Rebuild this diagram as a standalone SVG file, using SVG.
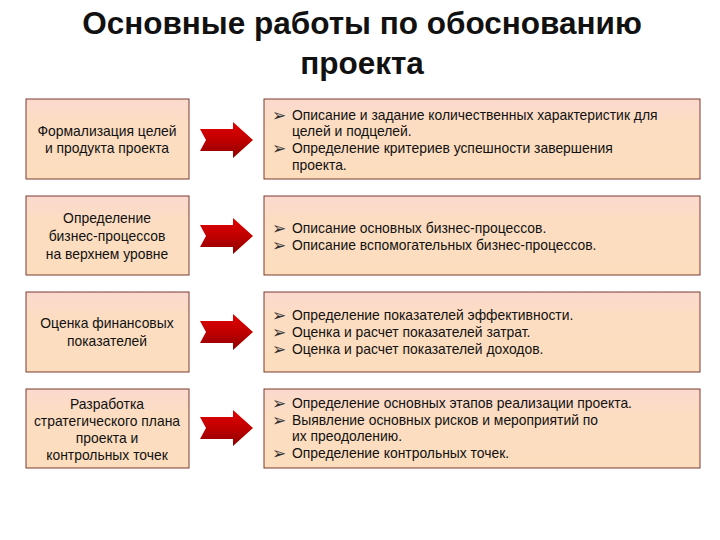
<svg xmlns="http://www.w3.org/2000/svg" width="720" height="540" viewBox="0 0 720 540">
<defs>
<linearGradient id="g" x1="0" y1="0" x2="0" y2="1"><stop offset="0" stop-color="#FBD9CF"/><stop offset="0.3" stop-color="#FCDDC2"/><stop offset="1" stop-color="#FCDDBD"/></linearGradient>
<linearGradient id="ar" x1="0" y1="0" x2="0" y2="1"><stop offset="0" stop-color="#E00000"/><stop offset="0.5" stop-color="#C00000"/><stop offset="1" stop-color="#8E0000"/></linearGradient>
<path id="arrow" d="M0,-11 L33,-11 L33,-18 L53,0 L33,18 L33,11 L0,11 L6,0 Z"/>
</defs>
<style>
.box{fill:url(#g);stroke:#7A3B2E;stroke-width:1}
.t{font-family:"Liberation Sans",Arial,sans-serif;font-size:13.9px;fill:#111}
.l{text-anchor:middle}
.title{font-family:"Liberation Sans",Arial,sans-serif;font-size:31.5px;font-weight:bold;fill:#111;text-anchor:middle}
.b{font-family:"DejaVu Sans",sans-serif;font-size:17px;fill:#333}
</style>
<rect width="720" height="540" fill="#fff"/>
<text class="title" x="362" y="34">Основные работы по обоснованию</text>
<text class="title" x="362" y="74">проекта</text>
<g id="n1"><rect class="box" x="26" y="99" width="163" height="80"/><text class="t l" x="107" y="136">Формализация целей</text><text class="t l" x="107" y="153">и продукта проекта</text></g>
<g id="n2"><rect class="box" x="26" y="196" width="163" height="79"/><text class="t l" x="107" y="223">Определение</text><text class="t l" x="107" y="241">бизнес-процессов</text><text class="t l" x="107" y="259">на верхнем уровне</text></g>
<g id="n3"><rect class="box" x="26" y="292" width="163" height="80"/><text class="t l" x="107" y="328">Оценка финансовых</text><text class="t l" x="107" y="346">показателей</text></g>
<g id="n4"><rect class="box" x="26" y="389" width="163" height="79"/><text class="t l" x="107" y="409">Разработка</text><text class="t l" x="107" y="426">стратегического плана</text><text class="t l" x="107" y="443">проекта и</text><text class="t l" x="107" y="460">контрольных точек</text></g>
<g id="connectors" fill="url(#ar)">
<use href="#arrow" x="200" y="140"/><use href="#arrow" x="200" y="236"/><use href="#arrow" x="200" y="332"/><use href="#arrow" x="200" y="428"/>
</g>
<g id="d1"><rect class="box" x="264" y="99" width="436" height="80"/>
<text class="b" x="272" y="121">➢</text><text class="t" x="292" y="120">Описание и задание количественных характеристик для</text>
<text class="t" x="292" y="136">целей и подцелей.</text>
<text class="b" x="272" y="154">➢</text><text class="t" x="292" y="153">Определение критериев успешности завершения</text>
<text class="t" x="292" y="170">проекта.</text></g>
<g id="d2"><rect class="box" x="264" y="196" width="436" height="79"/>
<text class="b" x="272" y="234">➢</text><text class="t" x="292" y="233">Описание основных бизнес-процессов.</text>
<text class="b" x="272" y="251">➢</text><text class="t" x="292" y="250">Описание вспомогательных бизнес-процессов.</text></g>
<g id="d3"><rect class="box" x="264" y="292" width="436" height="80"/>
<text class="b" x="272" y="321">➢</text><text class="t" x="292" y="320">Определение показателей эффективности.</text>
<text class="b" x="272" y="338">➢</text><text class="t" x="292" y="337">Оценка и расчет показателей затрат.</text>
<text class="b" x="272" y="355">➢</text><text class="t" x="292" y="354">Оценка и расчет показателей доходов.</text></g>
<g id="d4"><rect class="box" x="264" y="389" width="436" height="79"/>
<text class="b" x="272" y="409">➢</text><text class="t" x="292" y="408">Определение основных этапов реализации проекта.</text>
<text class="b" x="272" y="426">➢</text><text class="t" x="292" y="425">Выявление основных рисков и мероприятий по</text>
<text class="t" x="292" y="441">их преодолению.</text>
<text class="b" x="272" y="459">➢</text><text class="t" x="292" y="458">Определение контрольных точек.</text></g>
</svg>
